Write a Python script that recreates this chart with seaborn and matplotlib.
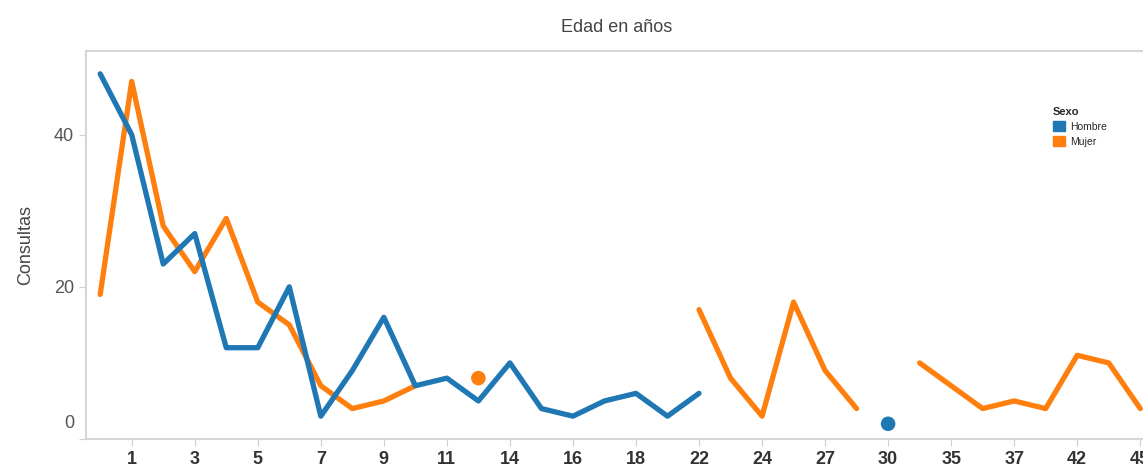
import numpy as np
import pandas as pd
import matplotlib
matplotlib.use("Agg")
import matplotlib.pyplot as plt
import matplotlib.transforms as mtransforms
import seaborn as sns
from matplotlib.patches import Patch

edades = [0, 1, 2, 3, 4, 5, 6, 7, 8, 9, 10, 11, 12, 14, 15, 16, 17, 18, 20, 22,
          23, 24, 25, 27, 28, 30, 32, 35, 36, 37, 40, 42, 43, 45]
hombre = [48, 40, 23, 27, 12, 12, 20, 3, 9, 16, 7, 8, 5, 10, 4, 3, 5, 6, 3, 6,
          None, None, None, None, None, 2, None, None, None, None, None, None, None, None]
mujer = [19, 47, 28, 22, 29, 18, 15, 7, 4, 5, 7, None, 8, None, None, None, None, None, None, 17,
         8, 3, 18, 9, 4, None, 10, 7, 4, 5, 4, 11, 10, 4]
series_names = ["Hombre", "Mujer"]
colors = ["#1f77b4", "#ff7f0e"]
y_ticks = [0, 20, 40]

sns.set_style("white")
plt.rcParams['font.family'] = ['Liberation Sans', 'DejaVu Sans']

rows = []
for name, vals in zip(series_names, [hombre, mujer]):
    seg = 0
    prev = False
    for i, v in enumerate(vals):
        if v is None:
            prev = False
            continue
        if not prev:
            seg += 1
        prev = True
        rows.append({"pos": i, "edad": edades[i], "Consultas": v, "Sexo": name, "seg": f"{name}-{seg}"})
df = pd.DataFrame(rows)
seg_size = df.groupby("seg")["pos"].transform("size")

fig = plt.figure(figsize=(11.43, 4.75), dpi=100)
ax = fig.add_axes([86 / 1143, 36 / 475, 1 - 86 / 1143 + 0.01, 388 / 475])

pal = dict(zip(series_names, colors))
# draw Mujer first so Hombre sits on top, as in the reference
sns.lineplot(data=df, x="pos", y="Consultas", hue="Sexo", hue_order=["Mujer", "Hombre"],
             units="seg", estimator=None, palette=pal, linewidth=3.8, ax=ax, legend=False,
             solid_joinstyle="round", solid_capstyle="round")
sns.scatterplot(data=df[seg_size == 1], x="pos", y="Consultas", hue="Sexo", palette=pal,
                s=110, linewidth=0, ax=ax, legend=False)

ax.set_xlim(-0.45, 33.45)
ax.set_ylim(0, 51)
ax.set_yticks(y_ticks)
ax.set_yticklabels(["" if t == 0 else str(t) for t in y_ticks], color="#555555", fontsize=13)
# Tableau lifts the lowest label so it sits above the axis line
ax.text(0, 0, "0", transform=ax.get_yaxis_transform() + mtransforms.ScaledTranslation(-0.12, 0.16, fig.dpi_scale_trans),
        ha="right", va="center", fontsize=13, color="#555555")
xt = list(range(1, len(edades), 2))
ax.set_xticks(xt)
ax.set_xticklabels([str(edades[i]) for i in xt], fontsize=13, fontweight="bold", color="#333333")
ax.tick_params(axis="both", which="both", length=5, width=0.8, color="#d0d0d0", left=True, bottom=True)
ax.set_xlabel("")
ax.set_ylabel("Consultas", fontsize=13, color="#444444", labelpad=14)
for s in ["top", "left", "bottom"]:
    ax.spines[s].set_color("#d6d6d6")
    ax.spines[s].set_linewidth(1.5)
ax.spines["right"].set_visible(False)

fig.text(617 / 1143, 1 - 28 / 475, "Edad en años", ha="center", va="center", fontsize=13, color="#444444")

handles = [Patch(facecolor=c, edgecolor=c, label=n) for n, c in zip(series_names, colors)]
leg = fig.legend(handles=handles, title="Sexo", loc="upper left",
                 bbox_to_anchor=(1049 / 1143, 1 - 103 / 475), frameon=False,
                 fontsize=7.5, title_fontsize=8, handlelength=1.1, handleheight=1.1,
                 handletextpad=0.5, labelspacing=0.4, alignment="left", borderaxespad=0)
leg.get_title().set_fontweight("bold")

fig.savefig("out.png", dpi=100)
